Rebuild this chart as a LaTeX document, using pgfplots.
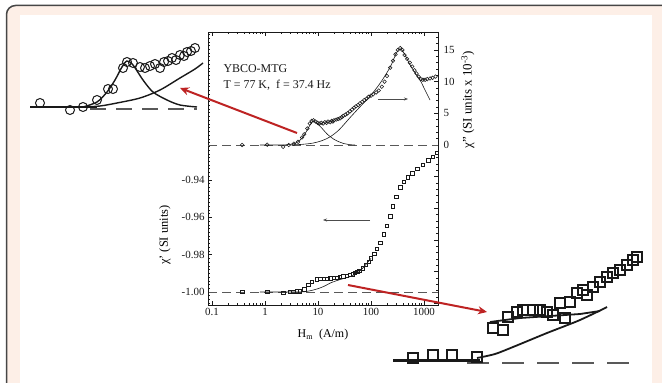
\documentclass[border=0pt]{standalone}
\usepackage{fontspec}
\setmainfont{Liberation Serif}
\usepackage{pgfplots}
\pgfplotsset{compat=1.18}
\usepackage{pgfplotstable}
\usetikzlibrary{arrows.meta}
\definecolor{beige}{RGB}{253,239,231}
\definecolor{bord}{RGB}{70,70,70}
\definecolor{redarrow}{RGB}{190,35,35}
\definecolor{ink}{RGB}{25,25,25}

% chi'' data (top panel, right axis, SI x 1e-3)
\pgfplotstableread{
H chi
0.37 0.0
1.1 0.05
2.2 -0.3
2.8 0.0
3.5 0.2
4.2 0.5
5.0 1.2
5.5 1.7
6.3 2.6
7.0 3.4
7.6 3.8
8.2 3.9
9.0 3.7
9.8 3.5
10.5 3.4
11.5 3.5
12.5 3.4
13.5 3.6
14.5 3.5
15.5 3.7
17 3.6
18 3.8
19 3.7
20 3.9
22 4.0
24 4.1
26 4.2
28 4.4
30 4.6
33 4.8
36 5.0
40 5.3
44 5.6
48 5.9
52 6.1
57 6.3
62 6.6
68 6.8
75 7.1
82 7.3
90 7.6
100 7.8
110 8.0
125 8.3
140 8.6
160 9.2
180 10.0
200 10.9
230 12.2
260 13.3
290 14.3
320 15.0
355 15.3
390 15.0
430 14.2
480 13.6
540 13.0
600 12.4
660 11.8
720 11.3
790 10.8
870 10.4
950 10.3
1050 10.3
1150 10.4
1300 10.5
1450 10.6
1650 10.8
}\chiIm

% fitted low-field peak
\pgfplotstableread{
H chi
0.8 0.0
2 0.0
3 0.1
4 0.4
5 1.1
6 2.1
7 3.1
7.8 3.7
8.3 3.8
9 3.6
10 3.3
12 2.6
15 1.7
20 0.9
25 0.5
30 0.25
40 0.05
50 0.0
}\fitA

% fitted broad peak
\pgfplotstableread{
H chi
3 0.0
5 0.1
8 0.3
12 0.7
17 1.3
25 2.4
40 4.3
60 5.9
96 7.7
150 9.8
230 12.3
300 14.5
355 15.2
420 14.5
550 12.6
700 11.2
850 10.2
1000 9.0
1300 7.1
}\fitB

% chi' data (bottom panel, left axis, SI)
\pgfplotstableread{
H chi
0.37 -1.0000
1.1 -1.0000
2.2 -1.0003
2.9 -0.9998
3.4 -0.9998
4.0 -0.9997
4.5 -0.9997
5.5 -0.9985
6.5 -0.9960
7.7 -0.9946
9.5 -0.9932
11 -0.9930
13 -0.9928
15 -0.9929
17 -0.9927
20 -0.9925
23 -0.9923
26 -0.9920
30 -0.9916
35 -0.9913
40 -0.9908
45 -0.9904
50 -0.9898
55 -0.9892
60 -0.9886
70 -0.9872
80 -0.9855
90 -0.9838
100 -0.9820
115 -0.9795
130 -0.9770
150 -0.9735
175 -0.9690
200 -0.9645
230 -0.9595
260 -0.9540
300 -0.9490
355 -0.9440
420 -0.9410
500 -0.9385
600 -0.9365
750 -0.9340
950 -0.9320
1200 -0.9295
1450 -0.9275
1760 -0.9255
}\chiRe

\pgfplotstableread{
H chi
0.8 -1.0000
4.5 -1.0000
6 -0.9997
8 -0.9990
11 -0.9978
14 -0.9965
17 -0.9952
22 -0.9940
30 -0.9928
40 -0.9918
50 -0.9905
60 -0.9890
70 -0.9872
100 -0.9820
}\fitC

% insets (picture coordinates of the magnified views)
\pgfplotstableread{
x y
40 103
70 110
83 107
97 100
108 89
113 89
123 68
127 62
133 63
140 67
145 68
150 66
155 64
160 68
164 62
168 61
172 58
176 60
180 55
184 56
187 52
191 51
195 48
}\insAdata
\pgfplotstableread{
x y
83 107
97 102
107 92
115 80
122 67
127 61
133 65
143 80
153 92
167 100
180 105
197 107
}\insApeak
\pgfplotstableread{
x y
83 107
100 106
117 103
140 98
160 90
180 78
195 69
203 63
}\insAbroad
\pgfplotstableread{
x y
413 358
433 355
452 355
477 357
493 328
503 330
508 317
517 312
523 310
533 310
540 310
547 312
553 315
560 303
565 318
570 302
577 293
583 290
587 295
593 287
600 282
607 277
613 273
620 270
627 265
633 260
637 257
}\insBdata
\pgfplotstableread{
x y
490 322
520 318
550 316
580 314
600 311
}\insBupper
\pgfplotstableread{
x y
477 358
495 354
513 347
530 340
547 333
565 326
580 320
597 312
607 307
}\insBlower

\begin{document}
\begin{tikzpicture}
\useasboundingbox (0bp,0bp) rectangle (662bp,383bp);
\clip (0bp,0bp) rectangle (662bp,383bp);
\fill[white] (0bp,0bp) rectangle (662bp,383bp);
\filldraw[fill=beige,draw=bord,line width=1.5bp,rounded corners=9bp] (6.5bp,-30bp) rectangle (700bp,377.5bp);
\fill[white] (20bp,-5bp) rectangle (652bp,368bp);

% chi' axis (left) with frame and x ticks
\begin{axis}[
  at={(208bp,78bp)}, anchor=south west, scale only axis,
  width=230bp, height=273bp,
  xmode=log, xmin=0.0841, xmax=1837,
  ymin=-1.00696, ymax=-0.86071,
  axis line style={ink,line width=0.8bp},
  tick style={ink,line width=0.6bp},
  major tick length=4bp, minor tick length=2bp,
  xtick={0.1,1,10,100,1000}, xticklabels={0.1,1,10,100,1000},
  ytick={-1,-0.98,-0.96,-0.94}, yticklabels={-1.00,-0.98,-0.96,-0.94},
  minor ytick={-1.006,-1.004,...,-0.862},
  ytick pos=left,
  /pgf/number format/assume math mode=true,
  tick label style={font=\fontsize{11}{12}\selectfont, text=ink},
  xlabel={H\textsubscript{m}\ \ (A/m)},
  every axis x label/.style={at={(axis description cs:0.5,0)}, anchor=base, yshift=-33bp, font=\fontsize{12}{14}\selectfont},
  ylabel={χ' (SI units)},
  every axis y label/.style={at={(axis description cs:-0.187,0.256)}, rotate=90, anchor=center, font=\fontsize{12.5}{14}\selectfont},
  clip=false,
]
\addplot[gray!70!black, line width=0.7bp, dash pattern=on 9bp off 5bp] coordinates {(0.0841,-1) (1837,-1)};
\addplot[ink, line width=0.6bp, smooth] table[x=H,y=chi] {\fitC};
\addplot[only marks, mark=square, mark size=1.7bp, mark options={ink, line width=0.55bp}] table[x=H,y=chi] {\chiRe};
\end{axis}

% chi'' axis (right)
\begin{axis}[
  at={(208bp,78bp)}, anchor=south west, scale only axis,
  width=230bp, height=273bp,
  xmode=log, xmin=0.0841, xmax=1837,
  ymin=-25.26, ymax=17.84,
  hide x axis,
  axis line style={ink,line width=0.8bp},
  tick style={ink,line width=0.6bp},
  major tick length=4bp, minor tick length=2bp,
  ytick={0,5,10,15},
  extra y ticks={-25,-20,-15,-10,-5}, extra y tick labels={},
  minor ytick={-25,-24,...,17},
  ytick pos=right,
  /pgf/number format/assume math mode=true,
  yticklabel style={font=\fontsize{11}{12}\selectfont, text=ink, xshift=2bp},
  ylabel={χ'' (SI units x 10\textsuperscript{-3})},
  every axis y label/.style={at={(axis description cs:1.13,0.751)}, rotate=90, anchor=center, font=\fontsize{13}{15}\selectfont},
  clip=false,
]
\addplot[gray!70!black, line width=0.7bp, dash pattern=on 9bp off 5bp] coordinates {(0.0841,0) (1837,0)};
\addplot[ink, line width=0.6bp, smooth] table[x=H,y=chi] {\fitA};
\addplot[ink, line width=0.6bp, smooth] table[x=H,y=chi] {\fitB};
\addplot[only marks, mark=o, mark size=1.8bp, mark options={ink, line width=0.55bp}] table[x=H,y=chi] {\chiIm};
\end{axis}

% overlay in picture coordinates: insets, arrows, texts
\begin{axis}[
  at={(0bp,0bp)}, anchor=south west, scale only axis,
  width=662bp, height=383bp,
  xmin=0, xmax=662, ymin=0, ymax=383, y dir=reverse,
  hide axis, clip=false,
]
\node[anchor=base west, font=\fontsize{12}{14}\selectfont, text=ink] at (axis cs:220,72) {YBCO-MTG};
\node[anchor=base west, font=\fontsize{12}{14}\selectfont, text=ink] at (axis cs:220,88) {T = 77 K, \ f = 37.4 Hz};
\draw[gray!60!black, line width=0.6bp, -{Stealth[length=4bp,width=3bp]}] (axis cs:378,99) -- (axis cs:408,99);
\draw[gray!60!black, line width=0.6bp, -{Stealth[length=4bp,width=3bp]}] (axis cs:370,220) -- (axis cs:323,220);
% left inset
\addplot[ink, line width=2bp] coordinates {(30,107) (97,107)};
\addplot[gray!70!black, line width=1.6bp, dash pattern=on 16bp off 10bp] coordinates {(90,109) (197,109)};
\addplot[ink, line width=1.4bp, smooth] table[x=x,y=y] {\insApeak};
\addplot[ink, line width=1.4bp, smooth] table[x=x,y=y] {\insAbroad};
\addplot[only marks, mark=o, mark size=4.5bp, mark options={ink, line width=1bp}] table[x=x,y=y] {\insAdata};
% right inset
\addplot[ink, line width=3bp] coordinates {(393,360) (480,360)};
\addplot[gray!70!black, line width=2.2bp, dash pattern=on 22bp off 13bp] coordinates {(467,363) (637,363)};
\addplot[ink, line width=1.8bp, smooth] table[x=x,y=y] {\insBlower};
\addplot[ink, line width=1.8bp] table[x=x,y=y] {\insBupper};
\addplot[only marks, mark=square, mark size=5bp, mark options={ink, line width=1.1bp}] table[x=x,y=y] {\insBdata};
% red arrows
\draw[redarrow, line width=2bp, -{Stealth[length=9bp,width=8bp]}] (axis cs:297,133) -- (axis cs:180,88);
\draw[redarrow, line width=2bp, -{Stealth[length=9bp,width=8bp]}] (axis cs:348,285) -- (axis cs:487,312);
\end{axis}
\end{tikzpicture}
\end{document}
